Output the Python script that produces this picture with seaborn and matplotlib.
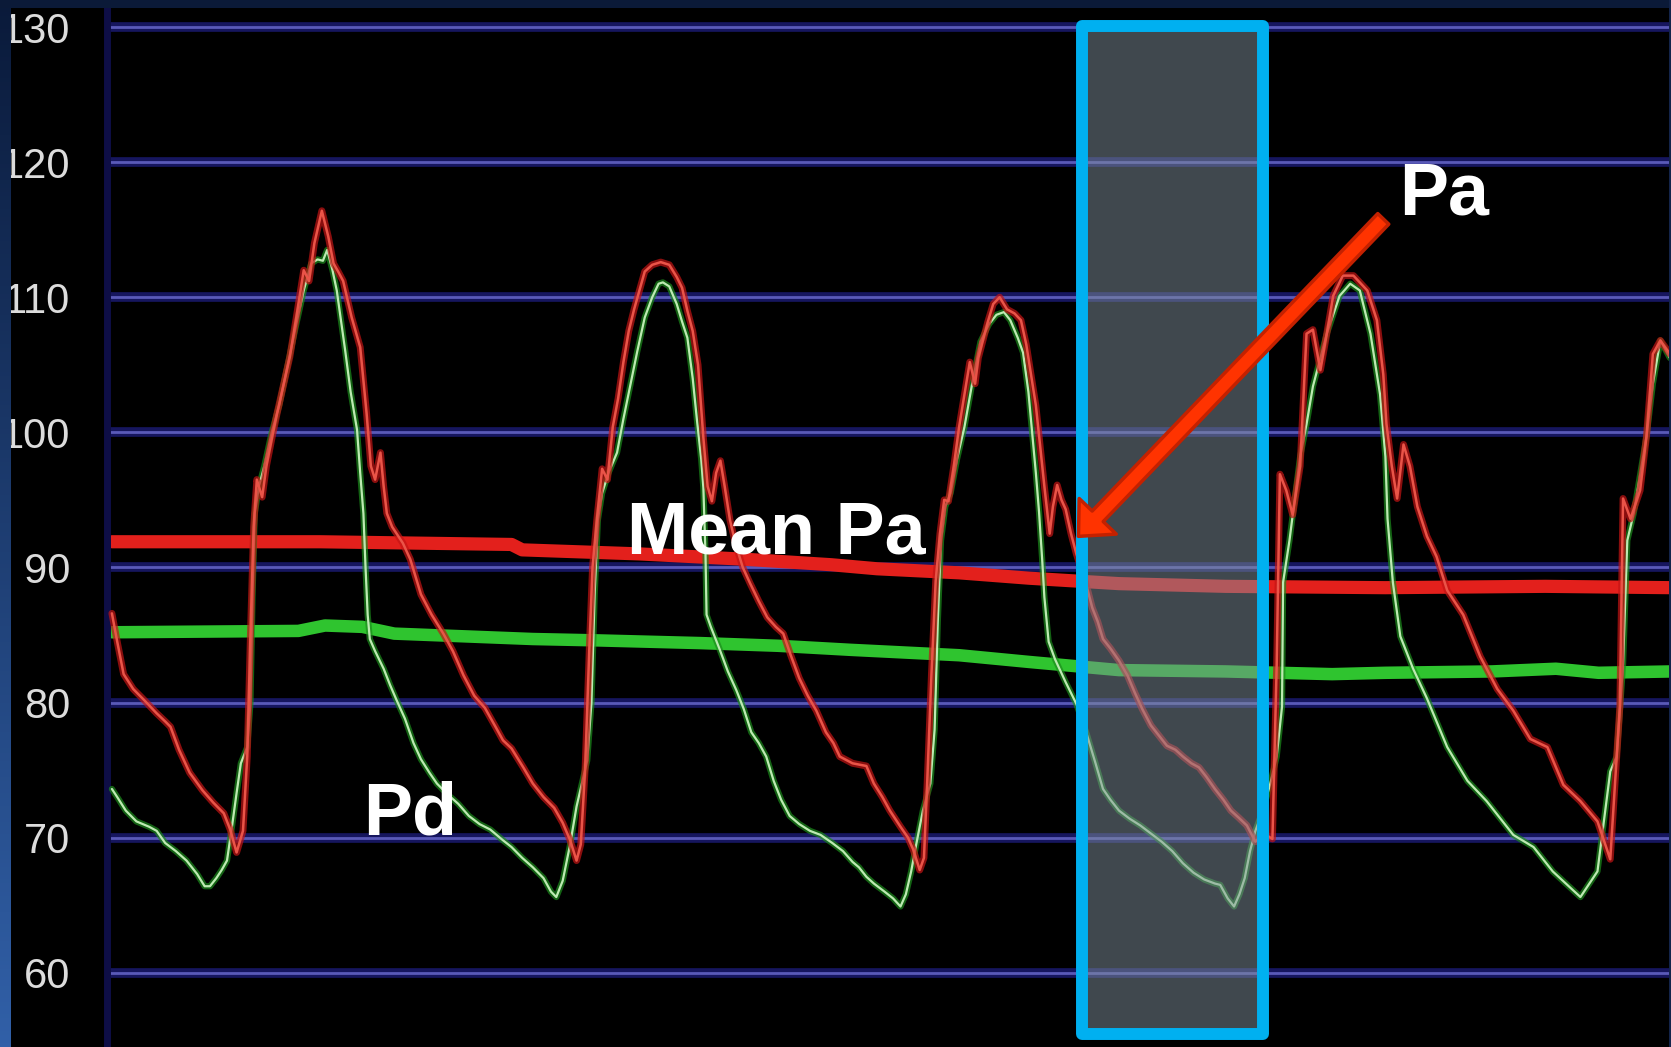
import numpy as np
import pandas as pd
import matplotlib
matplotlib.use("Agg")
import matplotlib.pyplot as plt
import matplotlib.patheffects as pe
from matplotlib.patches import Rectangle
from matplotlib.colors import LinearSegmentedColormap
import seaborn as sns

W, H, DPI = 1671, 1047, 100

# ---------------- data (time in screen samples, pressure in mmHg) ----------------
pa_t = [105, 110, 116, 125, 135, 147, 155, 160, 168, 178, 190, 200, 210, 216, 222, 228, 232, 235, 238, 241,
        246, 250, 255, 260, 266, 272, 278, 285, 290, 295, 302, 308, 313, 318, 322, 330, 338, 344, 348, 352,
        357, 360, 363, 368, 378, 385, 395, 405, 416, 425, 435, 445, 455, 465, 472, 480, 491, 500, 510, 520,
        528, 535, 541, 545, 549, 553, 556, 560, 565, 570, 575, 580, 585, 590, 595, 600, 605, 612, 620, 628,
        635, 640, 645, 650, 655, 660, 664, 668, 672, 676, 680, 685, 690, 697, 704, 712, 720, 728, 735, 742,
        750, 758, 766, 775, 782, 788, 800, 813, 820, 828, 835, 845, 852, 857, 863, 867, 870, 874, 878, 882,
        886, 890, 895, 900, 905, 910, 915, 918, 922, 927, 932, 938, 945, 952, 958, 963, 968, 972, 976, 980,
        985, 988, 992, 996, 1000, 1005, 1010, 1015, 1020, 1025, 1030, 1035, 1042, 1050, 1058, 1065, 1072, 1080, 1088, 1095,
        1103, 1110, 1118, 1125, 1132, 1140, 1148, 1155, 1162, 1170, 1178, 1186, 1194, 1198, 1201, 1207, 1213, 1220, 1226, 1232,
        1239, 1245, 1251, 1260, 1270, 1283, 1292, 1298, 1301, 1306, 1311, 1317, 1323, 1330, 1339, 1348, 1358, 1373, 1389, 1405,
        1420, 1436, 1452, 1467, 1483, 1499, 1511, 1520, 1523, 1530, 1539, 1545, 1551, 1558, 1567]
pa_v = [86.6, 84.5, 82.1, 81.0, 80.2, 79.2, 78.6, 78.2, 76.5, 74.8, 73.5, 72.6, 71.8, 70.6, 68.9, 70.5, 76.0, 85.0, 93.0, 96.5,
        95.2, 97.5, 99.5, 101.4, 103.5, 105.6, 108.5, 112.0, 111.2, 114.0, 116.4, 114.5, 112.5, 111.8, 111.2, 108.5, 106.3, 101.4, 97.5, 96.5,
        98.5, 96.0, 94.0, 93.0, 91.8, 90.6, 88.0, 86.5, 85.1, 83.8, 82.0, 80.5, 79.6, 78.2, 77.2, 76.6, 75.2, 74.0, 73.0, 72.2,
        71.1, 69.8, 68.3, 69.5, 75.0, 84.0, 90.0, 93.5, 97.3, 96.5, 100.4, 102.5, 105.2, 107.5, 109.1, 110.5, 111.9, 112.4, 112.6, 112.4,
        111.5, 110.7, 109.0, 107.5, 105.0, 99.6, 96.0, 94.9, 97.0, 97.9, 96.0, 93.5, 91.8, 90.0, 88.8, 87.5, 86.3, 85.6, 85.1, 83.5,
        81.8, 80.5, 79.4, 77.8, 77.0, 76.0, 75.5, 75.3, 74.0, 73.0, 72.0, 70.8, 70.0, 69.1, 67.6, 68.5, 74.0, 82.0, 89.0, 92.5,
        95.0, 94.9, 97.5, 100.4, 102.8, 105.2, 103.6, 105.5, 106.7, 108.2, 109.5, 110.0, 109.1, 108.8, 108.3, 106.5, 104.0, 102.0, 99.0, 96.0,
        92.5, 94.5, 96.1, 95.0, 94.3, 92.5, 91.0, 89.8, 88.5, 87.0, 86.0, 84.7, 84.0, 83.1, 82.0, 80.7, 79.5, 78.3, 77.5, 76.8,
        76.5, 76.0, 75.5, 75.2, 74.5, 73.6, 72.8, 72.0, 71.5, 70.9, 69.7, 70.3, 69.9, 82.8, 96.9, 95.7, 93.9, 97.5, 107.3, 107.6,
        104.6, 107.3, 110.1, 111.6, 111.6, 110.5, 108.3, 104.3, 100.6, 97.5, 95.1, 99.1, 97.5, 94.5, 92.3, 90.8, 88.3, 86.5, 83.4, 81.0,
        79.4, 77.3, 76.7, 73.9, 72.7, 71.2, 68.4, 79.7, 95.1, 93.6, 95.7, 99.7, 105.8, 106.8, 105.8]

pd_t = [105, 110, 118, 128, 140, 147, 155, 165, 175, 185, 192, 197, 203, 208, 213, 218, 222, 226, 232, 235,
        237, 239, 243, 248, 255, 262, 270, 278, 285, 292, 298, 303, 307, 312, 316, 319, 324, 329, 335, 338,
        341, 343, 345, 347, 352, 360, 366, 372, 380, 388, 395, 403, 410, 420, 430, 440, 450, 460, 472, 480,
        490, 500, 510, 517, 522, 528, 535, 541, 546, 551, 555, 558, 561, 565, 571, 579, 585, 591, 598, 605,
        612, 618, 622, 628, 635, 640, 645, 650, 654, 658, 660, 662, 663, 667, 675, 683, 691, 698, 705, 712,
        719, 726, 733, 741, 750, 760, 770, 781, 791, 800, 806, 813, 820, 830, 838, 845, 850, 855, 860, 866,
        873, 877, 880, 883, 887, 892, 898, 905, 912, 920, 928, 935, 942, 948, 955, 960, 965, 968, 972, 975,
        978, 980, 984, 990, 1000, 1010, 1020, 1028, 1035, 1042, 1050, 1060, 1070, 1080, 1090, 1100, 1110, 1120, 1130, 1140,
        1145, 1152, 1158, 1163, 1168, 1173, 1178, 1185, 1192, 1198, 1203, 1204, 1210, 1220, 1226, 1232, 1245, 1257, 1267, 1276,
        1286, 1295, 1300, 1302, 1307, 1314, 1326, 1339, 1358, 1377, 1395, 1420, 1439, 1457, 1483, 1499, 1511, 1517, 1523, 1527,
        1533, 1545, 1551, 1558, 1567]
pd_v = [73.6, 73.0, 72.0, 71.2, 70.8, 70.5, 69.6, 69.0, 68.3, 67.3, 66.4, 66.4, 67.0, 67.6, 68.3, 71.0, 73.3, 75.5, 76.7, 80.0,
        88.0, 94.0, 96.0, 97.5, 100.0, 102.0, 105.0, 108.0, 110.5, 112.5, 112.8, 112.7, 113.5, 112.0, 110.5, 108.8, 106.0, 103.0, 100.2, 97.0,
        94.0, 90.0, 86.5, 84.7, 83.8, 82.5, 81.3, 80.2, 78.8, 77.0, 75.8, 74.8, 74.0, 73.2, 72.5, 71.6, 71.0, 70.6, 69.8, 69.3,
        68.5, 67.8, 67.0, 66.0, 65.6, 66.8, 69.5, 72.3, 74.0, 75.7, 80.0, 88.0, 93.5, 95.5, 97.0, 98.5, 101.0, 103.3, 106.0, 108.5,
        110.0, 111.0, 111.1, 110.8, 109.5, 108.2, 107.0, 104.0, 100.9, 98.0, 95.9, 91.0, 86.5, 85.6, 84.0, 82.3, 80.9, 79.5, 77.8, 77.0,
        76.0, 74.2, 72.8, 71.6, 71.0, 70.5, 70.2, 69.6, 69.0, 68.2, 67.8, 67.1, 66.6, 66.0, 65.5, 64.9, 65.8, 67.5, 69.6, 72.0,
        74.0, 78.0, 86.0, 92.0, 94.5, 95.5, 98.0, 100.4, 103.5, 106.7, 108.0, 108.7, 108.9, 108.3, 107.0, 105.9, 103.0, 100.4, 97.0, 94.1,
        90.5, 87.8, 84.5, 83.2, 81.5, 79.9, 77.6, 75.5, 73.6, 72.8, 72.0, 71.4, 70.9, 70.3, 69.7, 69.0, 68.1, 67.4, 66.9, 66.6,
        66.5, 65.5, 64.9, 65.8, 67.0, 69.0, 70.5, 72.0, 74.0, 76.0, 79.7, 88.9, 92.0, 98.2, 100.6, 103.4, 107.3, 110.1, 111.0, 110.5,
        107.3, 102.8, 98.2, 93.6, 88.9, 84.9, 82.5, 80.3, 76.7, 74.2, 72.7, 70.2, 69.3, 67.5, 65.6, 67.5, 74.9, 76.0, 82.8, 92.0,
        94.0, 99.7, 103.6, 106.8, 105.5]

mean_pa_t = [105, 300, 480, 490, 600, 700, 780, 823, 900, 966, 1050, 1150, 1300, 1450, 1568]
mean_pa_v = [91.9, 91.9, 91.7, 91.3, 91.0, 90.6, 90.2, 89.9, 89.6, 89.2, 88.8, 88.6, 88.5, 88.6, 88.5]

mean_pd_t = [105, 280, 305, 340, 370, 500, 560, 657, 730, 798, 900, 966, 1050, 1150, 1250, 1300, 1400, 1460, 1500, 1568]
mean_pd_v = [85.2, 85.3, 85.7, 85.6, 85.1, 84.7, 84.6, 84.4, 84.2, 83.9, 83.5, 83.0, 82.4, 82.3, 82.1, 82.2, 82.3, 82.5, 82.2, 82.3]

y_ticks = [60, 70, 80, 90, 100, 110, 120, 130]
y_tick_labels = ["60", "70", "80", "90", "100", "110", "120", "130"]

window_t = [1015, 1185]          # highlighted beat window
window_v = [55.46, 130.07]
arrow_tail = [1298, 115.8]
arrow_head = [1012, 92.3]
label_text = ["Mean Pa", "Pa", "Pd"]
label_t = [588, 1313, 341]
label_v = [91.04, 116.1, 70.2]

# ---------------- style ----------------
sns.set_style("dark", {"axes.facecolor": "black", "figure.facecolor": "black"})
plt.rcParams["font.family"] = ["DejaVu Sans"]

fig = plt.figure(figsize=(W / DPI, H / DPI), dpi=DPI, facecolor="black")
ax = fig.add_axes([107 / W, 0, (W - 107) / W, (H - 8) / H])
ax.set_facecolor("black")
ax.set_xlim(100.4, 1568)
ax.set_ylim(54.5, 131.41)

# grid
ax.set_yticks(y_ticks)
ax.set_yticklabels(y_tick_labels, family=["Liberation Sans", "DejaVu Sans"])
ax.set_xticks([])
ax.tick_params(axis="y", length=0, pad=26.5, labelsize=30, labelcolor="#dcdcdc")
ax.yaxis.grid(True, color="#5a5ab8", lw=2.0)
ax.xaxis.grid(False)
ax.set_axisbelow(True)
for gl in ax.get_ygridlines():
    gl.set_path_effects([pe.Stroke(linewidth=7, foreground="#16165e"), pe.Normal()])
for s in ["top", "right", "bottom"]:
    ax.spines[s].set_visible(False)
ax.spines["left"].set_color("#0e0e46")
ax.spines["left"].set_linewidth(5)

# mean lines
df_mpa = pd.DataFrame({"t": mean_pa_t, "p": mean_pa_v})
df_mpd = pd.DataFrame({"t": mean_pd_t, "p": mean_pd_v})
sns.lineplot(data=df_mpa, x="t", y="p", ax=ax, color="#e3201c", lw=9.5, sort=False, estimator=None, zorder=2)
sns.lineplot(data=df_mpd, x="t", y="p", ax=ax, color="#2fc42f", lw=9.0, sort=False, estimator=None, zorder=2)

# pressure traces
df_pd = pd.DataFrame({"t": pd_t, "p": pd_v})
df_pa = pd.DataFrame({"t": pa_t, "p": pa_v})
sns.lineplot(data=df_pd, x="t", y="p", ax=ax, color="#bdeab2", lw=1.6, sort=False, estimator=None, zorder=3)
ax.lines[-1].set_path_effects([pe.Stroke(linewidth=4.5, foreground="#1c8c1c", alpha=0.7), pe.Normal()])
sns.lineplot(data=df_pa, x="t", y="p", ax=ax, color="#ea5448", lw=1.8, sort=False, estimator=None, zorder=3.2)
ax.lines[-1].set_path_effects([pe.Stroke(linewidth=5, foreground="#c41414", alpha=0.7), pe.Normal()])
ax.set_xlabel("")
ax.set_ylabel("")

# highlighted window
ax.add_patch(Rectangle((window_t[0], window_v[0]), window_t[1] - window_t[0], window_v[1] - window_v[0],
                       facecolor="#80909c", alpha=0.5, edgecolor="none", zorder=5))
ax.add_patch(Rectangle((window_t[0], window_v[0]), window_t[1] - window_t[0], window_v[1] - window_v[0],
                       facecolor="none", edgecolor="#00b0f0", lw=8.6, joinstyle="round", zorder=5.5))

# arrow
ax.annotate("", xy=tuple(arrow_head), xytext=tuple(arrow_tail),
            arrowprops=dict(arrowstyle="simple,head_length=2.0,head_width=3.7,tail_width=1.1",
                            mutation_scale=10, fc="#ff3300", ec="#c42100", lw=2.5,
                            shrinkA=0, shrinkB=0),
            zorder=6)

# labels
for txt, tx, ty in zip(label_text, label_t, label_v):
    ax.text(tx, ty, txt, fontsize=53, fontweight="bold", color="white",
            family=["Liberation Sans", "DejaVu Sans"], ha="left", va="baseline", zorder=7)

# slide border bands
ov = fig.add_axes([0, 0, 1, 1], zorder=10)
ov.patch.set_alpha(0)
grad = np.linspace(0, 1, 256).reshape(-1, 1)
cmap = LinearSegmentedColormap.from_list("band", ["#0a1a3a", "#3160a8"])
ov.imshow(grad, extent=(0, 11, 0, H), aspect="auto", cmap=cmap, origin="upper")
ov.add_patch(Rectangle((0, H - 8), W, 8, color="#0b1a38", lw=0))
ov.add_patch(Rectangle((W - 2, 0), 2, H, color="#13244a", lw=0))
ov.set_xlim(0, W)
ov.set_ylim(0, H)
ov.axis("off")

fig.savefig("out.png", dpi=DPI, facecolor="black")
